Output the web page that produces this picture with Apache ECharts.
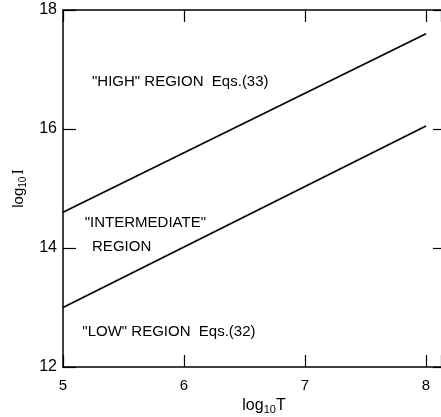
<!DOCTYPE html>
<html>
<head>
<meta charset="utf-8">
<script src="https://cdn.jsdelivr.net/npm/echarts@6/dist/echarts.min.js"></script>
<style>
  html, body { margin: 0; padding: 0; background: #fff; }
  #chart { width: 441px; height: 417px; }
</style>
</head>
<body>
<div id="chart"></div>
<script>
// log10 T range and ticks
var xTicks = [5, 6, 7, 8];
var yTicks = [12, 14, 16, 18];

// boundary lines (log10 T, log10 I)
var upperLine = [[5, 14.6], [8, 17.6]];
var lowerLine = [[5, 13.0], [8, 16.05]];

// region labels placed in data space
var regionLabels = [
  { value: [5.24, 16.79], text: '"HIGH" REGION  Eqs.(33)' },
  { value: [5.18, 14.42], text: '"INTERMEDIATE"' },
  { value: [5.24, 14.02], text: 'REGION' },
  { value: [5.16, 12.59], text: '"LOW" REGION  Eqs.(32)' }
];

var font = 'Liberation Sans';
var ink = '#000';

var chart = echarts.init(document.getElementById('chart'), null, { renderer: 'canvas' });

var option = {
  animation: false,
  backgroundColor: '#fff',
  grid: { left: 63, right: 0, top: 10, bottom: 50, outerBoundsMode: 'none', containLabel: false },
  xAxis: [{
    type: 'value',
    min: 5, max: 8.124, interval: 1,
    position: 'bottom',
    axisLine: { lineStyle: { color: ink, width: 1.5 } },
    axisTick: { inside: true, length: 12, lineStyle: { color: ink, width: 1.2 } },
    axisLabel: {
      color: ink, fontFamily: font, fontSize: 15, margin: 11,
      formatter: function (v) { return xTicks.indexOf(v) >= 0 ? String(v) : ''; }
    },
    splitLine: { show: false },
    name: '{a|log}{s|10}{a|T}',
    nameLocation: 'middle',
    nameGap: 28,
    nameTextStyle: {
      padding: [0, 0, 0, 24],
      rich: {
        a: { fontFamily: font, fontSize: 16, color: ink },
        s: { fontFamily: font, fontSize: 11, color: ink, padding: [8, 0, 0, 0] }
      }
    }
  }, {
    type: 'value',
    min: 5, max: 8.124, interval: 1,
    position: 'top',
    axisLine: { lineStyle: { color: ink, width: 1.5 } },
    axisTick: { inside: true, length: 12, lineStyle: { color: ink, width: 1.2 } },
    axisLabel: { show: false },
    splitLine: { show: false }
  }],
  yAxis: [{
    type: 'value',
    min: 12, max: 18, interval: 2,
    position: 'left',
    axisLine: { lineStyle: { color: ink, width: 1.5 } },
    axisTick: { inside: true, length: 13, lineStyle: { color: ink, width: 1.2 } },
    axisLabel: {
      color: ink, fontFamily: font, fontSize: 16, margin: 6,
      formatter: function (v) { return yTicks.indexOf(v) >= 0 ? String(v) : ''; }
    },
    splitLine: { show: false },
    name: '{a|log}{s|10}{i|I}',
    nameLocation: 'middle',
    nameGap: 35,
    nameRotate: 90,
    nameTextStyle: {
      rich: {
        a: { fontFamily: font, fontSize: 15, color: ink },
        s: { fontFamily: font, fontSize: 10, color: ink, padding: [8, 0, 0, 0] },
        i: { fontFamily: 'Liberation Serif', fontSize: 16, color: ink, padding: [0, 0, 0, 2] }
      }
    }
  }, {
    type: 'value',
    min: 12, max: 18, interval: 2,
    position: 'right',
    axisLine: { show: false },
    axisTick: { inside: true, length: 8, lineStyle: { color: ink, width: 1.2 } },
    axisLabel: { show: false },
    splitLine: { show: false }
  }],
  series: [{
    type: 'line',
    data: upperLine,
    showSymbol: false,
    lineStyle: { color: ink, width: 1.6 }
  }, {
    type: 'line',
    data: lowerLine,
    showSymbol: false,
    lineStyle: { color: ink, width: 1.6 }
  }, {
    type: 'scatter',
    symbolSize: 0,
    itemStyle: { opacity: 1, color: ink },
    data: regionLabels.map(function (d) { return { value: d.value, name: d.text }; }),
    label: {
      show: true,
      position: 'right',
      distance: 0,
      formatter: function (p) { return p.name; },
      color: ink,
      fontFamily: font,
      fontSize: 15
    }
  }]
};

chart.setOption(option);
</script>
</body>
</html>
